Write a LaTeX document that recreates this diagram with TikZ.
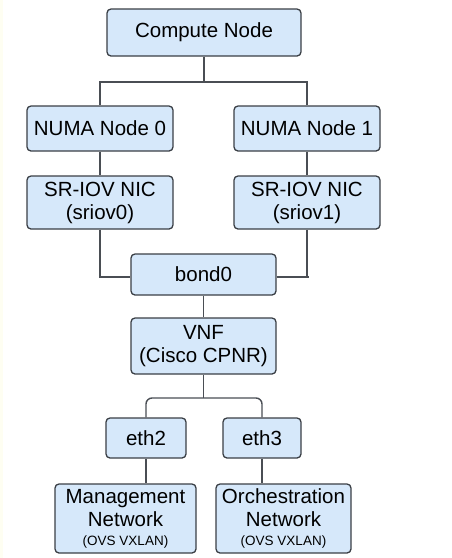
\documentclass[tikz,border=0pt]{standalone}
\usepackage{fontspec}
\setmainfont{Liberation Sans}
\definecolor{boxfill}{HTML}{D6E8FA}
\definecolor{boxline}{HTML}{3A3F45}
\definecolor{wire}{HTML}{4A4E54}
\tikzset{
    unit/.style={draw=boxline,fill=boxfill,line width=1.3pt,rounded corners=4pt,
        align=center,inner sep=0pt,font=\fontsize{20.5}{23}\selectfont},
    link/.style={draw=wire,line width=1.4pt}
}
\newcommand{\tagline}[1]{{\fontsize{13.5}{15}\selectfont #1}}
\begin{document}
\begin{tikzpicture}[x=1pt,y=-1pt]
    \useasboundingbox (0,0) rectangle (451,558);
    \fill[black!6!yellow!5] (0,0) rectangle (3,558);

    % Nodos
    \node[unit,minimum width=194pt,minimum height=47pt] (compute) at (204,32.5) {Compute Node};
    \node[unit,minimum width=146pt,minimum height=45pt] (numa0) at (100,128.5) {NUMA Node 0};
    \node[unit,minimum width=146pt,minimum height=45pt] (numa1) at (307,128.5) {NUMA Node 1};
    \node[unit,minimum width=146pt,minimum height=53pt] (nic0) at (100,202.5) {SR-IOV NIC\\(sriov0)};
    \node[unit,minimum width=146pt,minimum height=53pt] (nic1) at (307,202.5) {SR-IOV NIC\\(sriov1)};
    \node[unit,minimum width=145pt,minimum height=41pt] (bond) at (203.5,274.5) {bond0};
    \node[unit,minimum width=145pt,minimum height=56pt] (vnf) at (203.5,346) {VNF\\(Cisco CPNR)};
    \node[unit,minimum width=80pt,minimum height=40pt] (eth2) at (146,438) {eth2};
    \node[unit,minimum width=78pt,minimum height=40pt] (eth3) at (262,438) {eth3};
    \node[unit,minimum width=141pt,minimum height=69pt] (mgmt) at (125.5,518.5)
        {Management\\Network\\[-4pt]\tagline{(OVS VXLAN)}};
    \node[unit,minimum width=135pt,minimum height=69pt] (orch) at (283.5,518.5)
        {Orchestration\\Network\\[-4pt]\tagline{(OVS VXLAN)}};

    % Conexiones
    \coordinate (split1) at (204,82);
    \coordinate (split2) at (203.5,398);
    \coordinate (stub) at (309,277);

    \draw[link] (compute) -- (split1);
    \draw[link] (numa0) |- (split1) -| (numa1);
    \draw[link] (numa0) -- (nic0);
    \draw[link] (numa1) -- (nic1);
    \draw[link] (nic0.south) |- (bond.west |- stub);
    \draw[link] (nic1.south) |- (stub);
    \draw[link] (bond.east |- stub) -- (stub);
    \draw[link] (bond) -- (vnf);
    \draw[link] (vnf) -- (split2);
    \draw[link,rounded corners=6pt] (eth2) |- (split2) -| (eth3);
    \draw[link] (eth2) -- (eth2 |- mgmt.north);
    \draw[link] (eth3) -- (eth3 |- orch.north);
\end{tikzpicture}
\end{document}
